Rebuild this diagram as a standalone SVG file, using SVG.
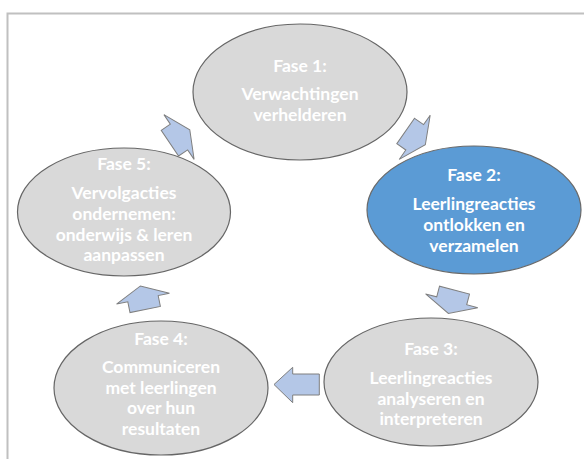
<svg xmlns="http://www.w3.org/2000/svg" width="584" height="459" viewBox="0 0 584 459">
<defs>
<style>
.frame{fill:none;stroke:#C0C0C0;stroke-width:2}
.node{fill:#D9D9D9;stroke:#666666;stroke-width:1.2}
.active{fill:#5B9BD5;stroke:#6A6A6A;stroke-width:1.2}
.arrow{fill:#B4C7E7;stroke:#7F7F7F;stroke-width:1;stroke-linejoin:miter}
text{font-family:Lato,"Liberation Sans",sans-serif;font-weight:bold;font-size:17.5px;fill:#FFFFFF;text-anchor:middle}
</style>
<polygon id="blk" class="arrow" points="-11,-15.5 0,-15.5 0,-27 13,0 0,27 0,15.5 -11,15.5"/>
</defs>
<rect width="584" height="459" fill="#FFFFFF"/>
<path class="frame" d="M7.5,459 V13.5 H584"/>

<g id="fase1">
<ellipse class="node" cx="300" cy="92" rx="107" ry="68"/>
<text x="300" y="72">Fase 1:</text>
<text x="300" y="100">Verwachtingen</text>
<text x="300" y="121">verhelderen</text>
</g>

<g id="fase2">
<ellipse class="active" cx="474" cy="210" rx="107" ry="64"/>
<text x="474" y="181">Fase 2:</text>
<text x="474" y="210">Leerlingreacties</text>
<text x="474" y="231">ontlokken en</text>
<text x="474" y="252">verzamelen</text>
</g>

<g id="fase3">
<ellipse class="node" cx="431" cy="382" rx="107" ry="64"/>
<text x="431" y="355">Fase 3:</text>
<text x="431" y="384">Leerlingreacties</text>
<text x="431" y="405">analyseren en</text>
<text x="431" y="425">interpreteren</text>
</g>

<g id="fase4">
<ellipse class="node" cx="161" cy="388" rx="107" ry="67"/>
<text x="161" y="345">Fase 4:</text>
<text x="161" y="373">Communiceren</text>
<text x="161" y="394">met leerlingen</text>
<text x="161" y="414">over hun</text>
<text x="161" y="435">resultaten</text>
</g>

<g id="fase5">
<ellipse class="node" cx="124" cy="212" rx="106.5" ry="64"/>
<text x="124" y="170">Fase 5:</text>
<text x="124" y="199">Vervolgacties</text>
<text x="124" y="220">ondernemen:</text>
<text x="124" y="241">onderwijs &amp; leren</text>
<text x="124" y="261">aanpassen</text>
</g>

<g id="connectors">
<use href="#blk" transform="translate(179,137) rotate(-34)"/>
<use href="#blk" transform="translate(414.7,137.3) rotate(35)"/>
<use href="#blk" transform="translate(451.7,300.8) rotate(104.8)"/>
<polygon class="arrow" points="274,384.5 292.7,367.3 292.7,374 319.3,374 319.3,395 292.7,395 292.7,402.7"/>
<use href="#blk" transform="translate(143,298.7) rotate(-101.5)"/>
</g>
</svg>
